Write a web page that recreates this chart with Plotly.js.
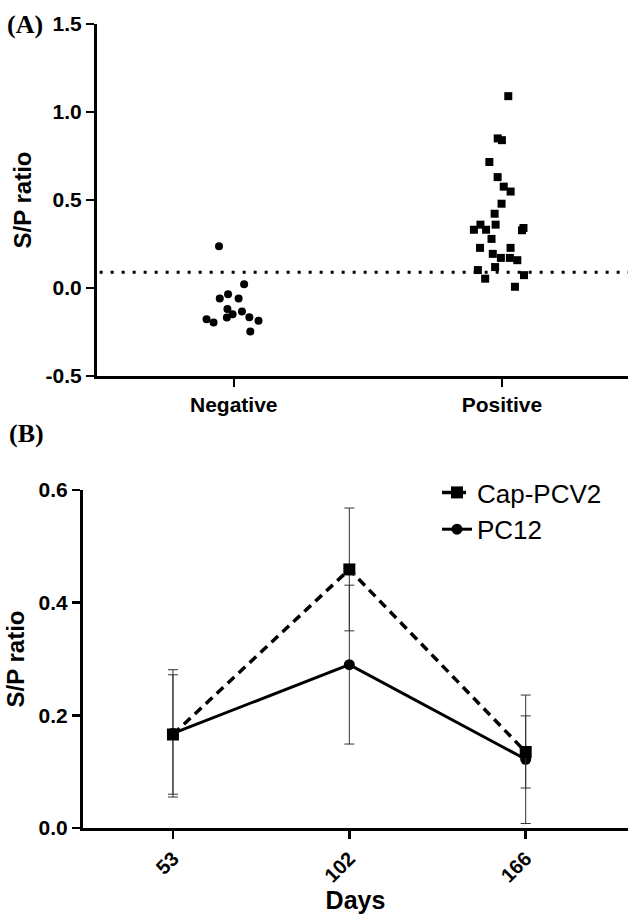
<!DOCTYPE html>
<html>
<head>
<meta charset="utf-8">
<script src="https://cdn.plot.ly/plotly-3.0.1.min.js"></script>
<style>html,body{margin:0;padding:0;background:#fff;}#chart{width:628px;height:917px;}</style>
</head>
<body>
<div id="chart"></div>
<script>
// Panel A: individual S/P ratios
var groupsA = ['Negative', 'Positive'];
var negativeValues = [0.237, 0.021, -0.036, -0.060, -0.060, -0.134, -0.120, -0.166, -0.177, -0.196, -0.186, -0.168, -0.149, -0.247];
var positiveValues = [1.090, 0.850, 0.840, 0.716, 0.630, 0.576, 0.548, 0.479, 0.422, 0.360, 0.331, 0.328, 0.331, 0.341, 0.360, 0.279, 0.228, 0.228, 0.194, 0.171, 0.158, 0.171, 0.119, 0.102, 0.073, 0.053, 0.007];
var cutoff = 0.09;
var yTickValsA = [-0.5, 0, 0.5, 1.0, 1.5];
var yTickTextA = ['-0.5', '0.0', '0.5', '1.0', '1.5'];

// Panel B: mean S/P ratio over time
var days = ['53', '102', '166'];
var capMean = [0.166, 0.459, 0.135];
var capSD = [0.106, 0.109, 0.064];
var pc12Mean = [0.168, 0.290, 0.122];
var pc12SD = [0.113, 0.141, 0.114];
var yTickValsB = [0, 0.2, 0.4, 0.6];
var yTickTextB = ['0.0', '0.2', '0.4', '0.6'];

var FONT = 'Liberation Sans, Arial, sans-serif';
var W = 628, H = 917;

function hiddenBox(name, vals, sym, xa, ya) {
  return {
    type: 'box', name: name, x: vals.map(function(){return name;}), y: vals,
    xaxis: xa, yaxis: ya,
    boxpoints: 'all', jitter: 1, pointpos: 0, width: 0.24,
    fillcolor: 'rgba(0,0,0,0)', line: {color: 'rgba(0,0,0,0)', width: 0},
    whiskerwidth: 0,
    marker: {symbol: sym, size: 8, color: '#000'},
    showlegend: false, hoverinfo: 'skip'
  };
}

var traces = [
  hiddenBox(groupsA[0], negativeValues, 'circle', 'x', 'y'),
  hiddenBox(groupsA[1], positiveValues, 'square', 'x', 'y'),
  {
    type: 'scatter', mode: 'lines+markers', name: 'PC12',
    x: days, y: pc12Mean, xaxis: 'x2', yaxis: 'y2',
    line: {color: '#000', width: 3},
    marker: {symbol: 'circle', size: 11, color: '#000'},
    error_y: {type: 'data', array: pc12SD, visible: true, color: '#333', thickness: 1, width: 5},
    legendrank: 2, hoverinfo: 'skip'
  },
  {
    type: 'scatter', mode: 'lines+markers', name: 'Cap-PCV2',
    x: days, y: capMean, xaxis: 'x2', yaxis: 'y2',
    line: {color: '#000', width: 3.5, dash: '9px,6px'},
    marker: {symbol: 'square', size: 12, color: '#000'},
    error_y: {type: 'data', array: capSD, visible: true, color: '#333', thickness: 1, width: 5},
    legendrank: 1, hoverinfo: 'skip'
  }
];

var axisCommon = {
  showline: true, linewidth: 3, linecolor: '#000', mirror: false,
  ticks: 'outside', ticklen: 8, tickwidth: 2.5, tickcolor: '#000',
  showgrid: false, zeroline: false, fixedrange: true
};
function ext(a, b) { var o = {}; for (var k in a) o[k] = a[k]; for (var k2 in b) o[k2] = b[k2]; return o; }
var tickFont = {family: FONT, size: 21, color: '#000', weight: 700};
var titleFont = {family: FONT, size: 24, color: '#000', weight: 700};

var layout = {
  width: W, height: H,
  margin: {l: 0, r: 0, t: 0, b: 0},
  paper_bgcolor: '#fff', plot_bgcolor: '#fff',
  showlegend: true,
  legend: {
    x: 437 / W, xanchor: 'left', y: 1 - 469 / H, yanchor: 'top',
    font: {family: FONT, size: 26, color: '#000'},
    bgcolor: 'rgba(0,0,0,0)', traceorder: 'normal', tracegroupgap: 0
  },
  xaxis: ext(axisCommon, {
    domain: [97 / W, 1], anchor: 'y', type: 'category',
    categoryorder: 'array', categoryarray: groupsA,
    range: [-0.51, 1.47],
    tickfont: tickFont
  }),
  yaxis: ext(axisCommon, {
    domain: [1 - 376 / H, 1 - 24 / H], anchor: 'x',
    range: [-0.5, 1.5], tickvals: yTickValsA, ticktext: yTickTextA,
    tickfont: tickFont,
    title: {text: 'S/P ratio', font: titleFont, standoff: 8}
  }),
  xaxis2: ext(axisCommon, {
    domain: [83 / W, 1], anchor: 'y2', type: 'category',
    categoryorder: 'array', categoryarray: days,
    range: [-0.51, 2.58], tickangle: -45,
    tickfont: {family: FONT, size: 20, color: '#000', weight: 700},
    title: {text: 'Days', font: {family: FONT, size: 25, color: '#000', weight: 700}, standoff: 4}
  }),
  yaxis2: ext(axisCommon, {
    domain: [1 - 828 / H, 1 - 490 / H], anchor: 'x2',
    range: [0, 0.6], tickvals: yTickValsB, ticktext: yTickTextB,
    tickfont: tickFont,
    title: {text: 'S/P ratio', font: titleFont, standoff: 8}
  }),
  shapes: [{
    type: 'line', xref: 'x domain', yref: 'y', x0: 0.005, x1: 1, y0: cutoff, y1: cutoff,
    line: {color: '#000', width: 3, dash: '3px,8px'}
  }],
  annotations: [
    {text: '(A)', xref: 'paper', yref: 'paper', x: 5 / W, y: 1 - 25 / H, xanchor: 'left', yanchor: 'middle', showarrow: false,
     font: {family: 'Liberation Serif, Times New Roman, serif', size: 26, color: '#000', weight: 700}},
    {text: '(B)', xref: 'paper', yref: 'paper', x: 7 / W, y: 1 - 433 / H, xanchor: 'left', yanchor: 'middle', showarrow: false,
     font: {family: 'Liberation Serif, Times New Roman, serif', size: 26, color: '#000', weight: 700}}
  ]
};

Plotly.newPlot('chart', traces, layout, {staticPlot: true, displayModeBar: false});
</script>
</body>
</html>
